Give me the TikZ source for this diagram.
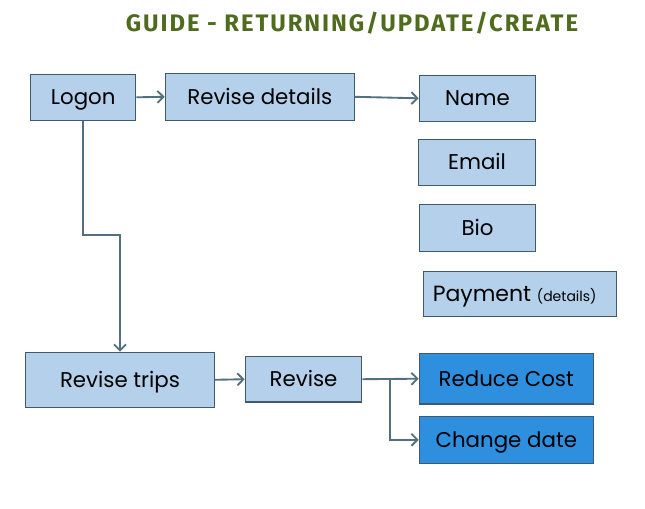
\documentclass[tikz,border=0pt]{standalone}
\usepackage{fontspec}
\setmainfont{Poppins}
\newfontfamily\titlefont[LetterSpace=8]{Fira Sans}
\usetikzlibrary{arrows.meta}
\definecolor{boxblue}{RGB}{180,208,234}
\definecolor{deepblue}{RGB}{46,143,223}
\definecolor{boxline}{RGB}{65,89,107}
\definecolor{linkline}{RGB}{83,112,127}
\definecolor{titlegreen}{RGB}{79,107,30}
\begin{document}
\begin{tikzpicture}[x=0.75pt,y=0.75pt,yscale=-1,
  pale/.style={draw=boxline,line width=0.9pt,fill=boxblue,inner sep=0pt,text height=11pt,text depth=0pt,font=\fontsize{16}{18}\selectfont},
  dark/.style={pale,fill=deepblue},
  link/.style={draw=linkline,line width=1.4pt,-{Straight Barb[length=4.5pt,width=9pt]}}]
%set diagram left start at 0, and has height of 508
\useasboundingbox (0,0) rectangle (645,508);

% Text Node
\node (title) at (352,24) [text=titlegreen,text height=10.9pt,text depth=0pt,font=\titlefont\bfseries\fontsize{17.9}{20}\selectfont] {GUIDE - RETURNING/UPDATE/CREATE};

%Shape: Rectangle
\node (logon) at (83.2,97.3) [pale,minimum width=105*0.75pt,minimum height=46*0.75pt] {Logon};
%Shape: Rectangle
\node (revdet) at (259.8,96.8) [pale,minimum width=189*0.75pt,minimum height=47*0.75pt] {Revise details};
%Shape: Rectangle
\node (name) at (477.5,98.3) [pale,minimum width=116.4*0.75pt,minimum height=46*0.75pt] {Name};
%Shape: Rectangle
\node (email) at (477,162.3) [pale,minimum width=117.4*0.75pt,minimum height=46*0.75pt] {Email};
%Shape: Rectangle
\node (bio) at (477.5,227.8) [pale,minimum width=116.4*0.75pt,minimum height=47*0.75pt] {Bio};
%Shape: Rectangle
\node (payment) at (520,294.2) [pale,minimum width=193.4*0.75pt,minimum height=45*0.75pt] {\hspace*{-8pt}{\fontsize{16.5}{20}\selectfont Payment} {\fontsize{10.5}{13}\selectfont(details)}};
%Shape: Rectangle
\node (revtrips) at (120,379.8) [pale,minimum width=188.6*0.75pt,minimum height=55*0.75pt] {Revise trips};
%Shape: Rectangle
\node (revise) at (303.5,379.2) [pale,minimum width=116.4*0.75pt,minimum height=45.7*0.75pt] {Revise};
%Shape: Rectangle
\node (reduce) at (506.3,378.7) [dark,minimum width=174*0.75pt,minimum height=50.7*0.75pt] {Reduce Cost};
%Shape: Rectangle
\node (change) at (506.3,439.8) [dark,minimum width=174*0.75pt,minimum height=47*0.75pt] {Change date};

\coordinate (bend) at (120,235);
\coordinate (fork) at (390,379);

%Straight Lines
\draw [link] (logon.east) -- (revdet.west);
%Straight Lines
\draw [link] (revdet.east) -- (name.west);
%Straight Lines
\draw [link] (logon.south) |- (bend) -- (revtrips.north);
%Straight Lines
\draw [link] (revtrips.east) -- (revise.west);
%Straight Lines
\draw [link] (revise.east) -- (reduce.west);
%Straight Lines
\draw [link] (fork) |- (change.west);

\end{tikzpicture}
\end{document}
